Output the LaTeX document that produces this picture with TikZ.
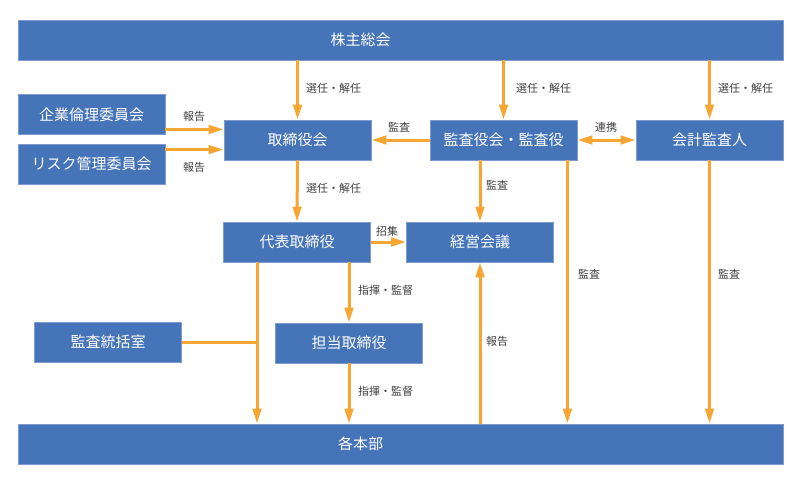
\documentclass[tikz,border=0pt]{standalone}
\usepackage{fontspec}
\setmainfont{Noto Sans CJK JP}
\usetikzlibrary{arrows.meta}
\definecolor{boxblue}{RGB}{70,116,185}
\definecolor{boxline}{RGB}{125,155,208}
\definecolor{linkorange}{RGB}{247,165,51}
\definecolor{labelgray}{RGB}{64,64,64}
\begin{document}
\begin{tikzpicture}
  [x=1pt,y=-1pt,
   box/.style={rectangle,fill=boxblue,draw=boxline,line width=.8pt,text=white,
     font=\fontsize{15}{15}\selectfont,inner sep=0pt,minimum width=147pt,minimum height=40pt},
   lbl/.style={text=labelgray,font=\fontsize{11}{11}\selectfont,inner sep=0pt,anchor=west},
   link/.style={draw=linkorange,line width=3pt,-{Triangle[length=15pt,width=8.5pt]}},
   twoway/.style={link,{Triangle[length=15pt,width=8.5pt]}-{Triangle[length=15pt,width=8.5pt]}}]
  \useasboundingbox (0,0) rectangle (800,483);
  \node[box,minimum width=765pt] (kabu) at (400.5,40) {株主総会\hspace*{80pt}};
  \node[box] (rinri) at (91.5,114.5) {企業倫理委員会};
  \node[box] (risk) at (91.5,164) {リスク管理委員会};
  \node[box] (tori) at (297.5,140) {取締役会};
  \node[box] (kansa) at (503.5,140) {監査役会・監査役};
  \node[box] (kaikei) at (709.5,140) {会計監査人};
  \node[box] (daihyo) at (297,242) {代表取締役};
  \node[box] (keiei) at (480,242) {経営会議};
  \node[box] (kantou) at (108,342) {監査統括室};
  \node[box] (tanto) at (349,343) {担当取締役};
  \node[box,minimum width=765pt] (kakuhon) at (400.5,444) {各本部\hspace*{80pt}};
  \coordinate (r1) at ([yshift=5.5pt]rinri.south east);
  \coordinate (r2) at ([yshift=-6pt]risk.north east);
  \coordinate (d1) at ([xshift=-40pt]daihyo.south);
  \coordinate (k1) at ([xshift=-10pt]kansa.south east);
  \foreach \from/\to in {kabu.south -| tori/tori.north,kabu.south -| kansa/kansa.north,
      kabu.south -| kaikei/kaikei.north,r1/r1 -| tori.west,r2/r2 -| tori.west,
      kansa.west/tori.east,tori.south/daihyo.north,daihyo.east/keiei.west,
      kansa.south -| keiei/keiei.north,k1/k1 |- kakuhon.north,
      kaikei.south/kaikei.south |- kakuhon.north,d1/d1 |- kakuhon.north,
      daihyo.south -| tanto/tanto.north,tanto.south/tanto.south |- kakuhon.north,
      kakuhon.north -| keiei/keiei.south}
    \draw[link] (\from) -- (\to);
  \draw[twoway] (kansa.east) -- (kaikei.west);
  \draw[draw=linkorange,line width=3pt] (kantou.east) -- (kantou.east -| d1);
  \foreach \nm/\x/\y/\txt in {sel1/306/88/選任・解任,sel2/516/88/選任・解任,sel3/718/88/選任・解任,
      rep1/183/116/報告,rep2/183/167/報告,aud1/388/127/監査,coop/595/127/連携,
      sel4/306/188/選任・解任,conv/376/231/招集,aud2/486/185/監査,aud3/578/274/監査,
      aud4/718/274/監査,cmd1/358/290/指揮・監督,cmd2/358/391/指揮・監督,rep3/486/341/報告}
    \node[lbl] (\nm) at (\x,\y) {\txt};
\end{tikzpicture}
\end{document}
